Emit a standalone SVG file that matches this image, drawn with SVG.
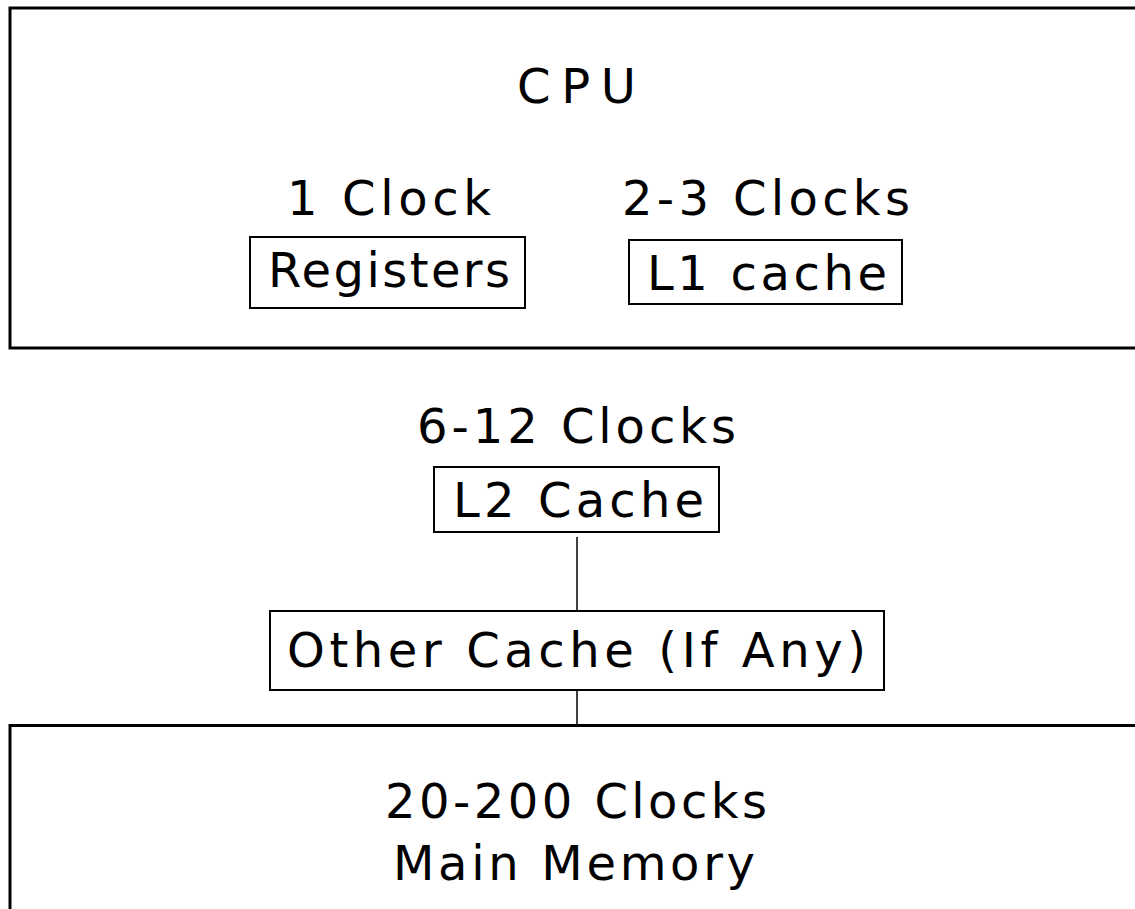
<svg xmlns="http://www.w3.org/2000/svg" width="1135" height="909" viewBox="0 0 1135 909">
<style>
.big{fill:none;stroke:#000;stroke-width:3}
.box{fill:none;stroke:#000;stroke-width:2}
.t{font-family:"DejaVu Sans","Liberation Sans",sans-serif;font-size:48px;fill:#000}
.ln{stroke:#000;stroke-width:1.5}
</style>
<rect width="1135" height="909" fill="#fff"/>
<g id="cpu">
<rect class="big" x="10" y="8" width="1140" height="340"/>
<text class="t" x="517" y="103" textLength="119" lengthAdjust="spacing">CPU</text>
</g>
<g id="registers">
<text class="t" x="287" y="215" textLength="204" lengthAdjust="spacing">1 Clock</text>
<rect class="box" x="250" y="237" width="275" height="71"/>
<text class="t" x="268" y="287" textLength="242" lengthAdjust="spacing">Registers</text>
</g>
<g id="l1">
<text class="t" x="622" y="215" textLength="288" lengthAdjust="spacing">2-3 Clocks</text>
<rect class="box" x="629" y="240" width="273" height="64"/>
<text class="t" x="647" y="290" textLength="240" lengthAdjust="spacing">L1 cache</text>
</g>
<g id="l2">
<text class="t" x="417" y="443" textLength="319" lengthAdjust="spacing">6-12 Clocks</text>
<rect class="box" x="434" y="467" width="285" height="65"/>
<text class="t" x="453" y="517" textLength="251" lengthAdjust="spacing">L2 Cache</text>
</g>
<g id="other">
<rect class="box" x="270" y="611" width="614" height="79"/>
<text class="t" x="287" y="667" textLength="579" lengthAdjust="spacing">Other Cache (If Any)</text>
</g>
<g id="memory">
<rect class="big" x="10" y="725.5" width="1140" height="200"/>
<text class="t" x="385" y="818" textLength="382" lengthAdjust="spacing">20-200 Clocks</text>
<text class="t" x="393" y="880" textLength="362" lengthAdjust="spacing">Main Memory</text>
</g>
<g id="connectors">
<line class="ln" x1="577" y1="537" x2="577" y2="612"/>
<line class="ln" x1="577" y1="690" x2="577" y2="725"/>
</g>
</svg>
